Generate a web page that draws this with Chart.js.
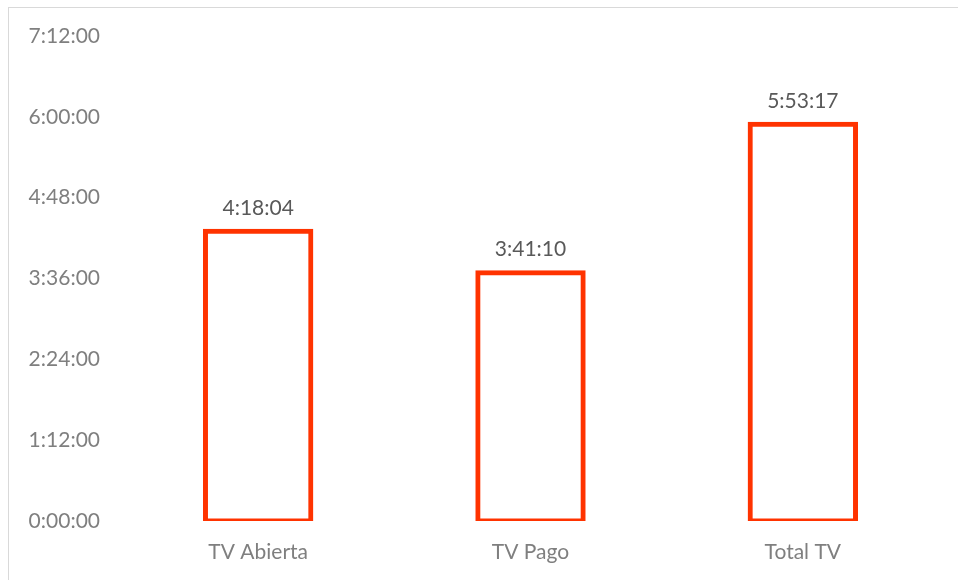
<!DOCTYPE html>
<html>
<head>
<meta charset="utf-8">
<script src="https://cdn.jsdelivr.net/npm/chart.js"></script>
<style>
  body { margin: 0; background: #fff; overflow: hidden; }
  .frame { position: absolute; left: 8px; top: 7px; width: 1000px; height: 620px; border: 1px solid #d9d9d9; }
  .wrap { position: absolute; left: 0; top: 0; width: 958px; height: 580px; }
</style>
</head>
<body>
<div class="frame"></div>
<div class="wrap"><canvas id="myChart"></canvas></div>
<script>
// categories and viewing time in seconds
const categories = ['TV Abierta', 'TV Pago', 'Total TV'];
const seconds = [15484, 13270, 21197]; // 4:18:04, 3:41:10, 5:53:17
const tickStep = 4320;  // 1:12:00
const tickMax = 25920;  // 7:12:00

function fmt(s) {
    s = Math.round(s);
    const h = Math.floor(s / 3600);
    const m = Math.floor((s % 3600) / 60);
    const sec = s % 60;
    return h + ':' + String(m).padStart(2, '0') + ':' + String(sec).padStart(2, '0');
}

const fontFam = 'Lato, "Open Sans", sans-serif';

// labels above each bar
const barLabels = {
    id: 'barLabels',
    afterDatasetsDraw(chart) {
        const ctx = chart.ctx;
        const meta = chart.getDatasetMeta(0);
        ctx.save();
        ctx.fillStyle = '#595959';
        ctx.font = '21px ' + fontFam;
        ctx.textAlign = 'center';
        ctx.textBaseline = 'bottom';
        meta.data.forEach((bar, i) => {
            ctx.fillText(fmt(seconds[i]), bar.x, bar.y - 13);
        });
        ctx.restore();
    }
};

new Chart(document.getElementById('myChart'), {
    type: 'bar',
    data: {
        labels: categories,
        datasets: [{
            data: seconds,
            backgroundColor: '#ffffff',
            borderColor: '#ff3300',
            borderWidth: 5,
            borderSkipped: false,
            inflateAmount: 2.5,
            barPercentage: 0.645,
            categoryPercentage: 0.6
        }]
    },
    options: {
        responsive: true,
        maintainAspectRatio: false,
        animation: false,
        layout: { padding: { top: 36, right: 19, left: 0, bottom: 0 } },
        plugins: { legend: { display: false }, tooltip: { enabled: false } },
        scales: {
            x: {
                grid: { display: false, drawTicks: false },
                border: { display: false },
                ticks: { color: '#7f7f7f', font: { family: fontFam, size: 21 }, padding: 19 },
                afterFit(scale) { scale.height = 59; }
            },
            y: {
                min: 0,
                max: tickMax,
                grid: { display: false, drawTicks: false },
                border: { display: false },
                ticks: {
                    stepSize: tickStep,
                    color: '#7f7f7f',
                    font: { family: fontFam, size: 21 },
                    padding: 22,
                    callback: v => fmt(v)
                },
                afterFit(scale) { scale.width = 122; }
            }
        }
    },
    plugins: [barLabels]
});
</script>
</body>
</html>
